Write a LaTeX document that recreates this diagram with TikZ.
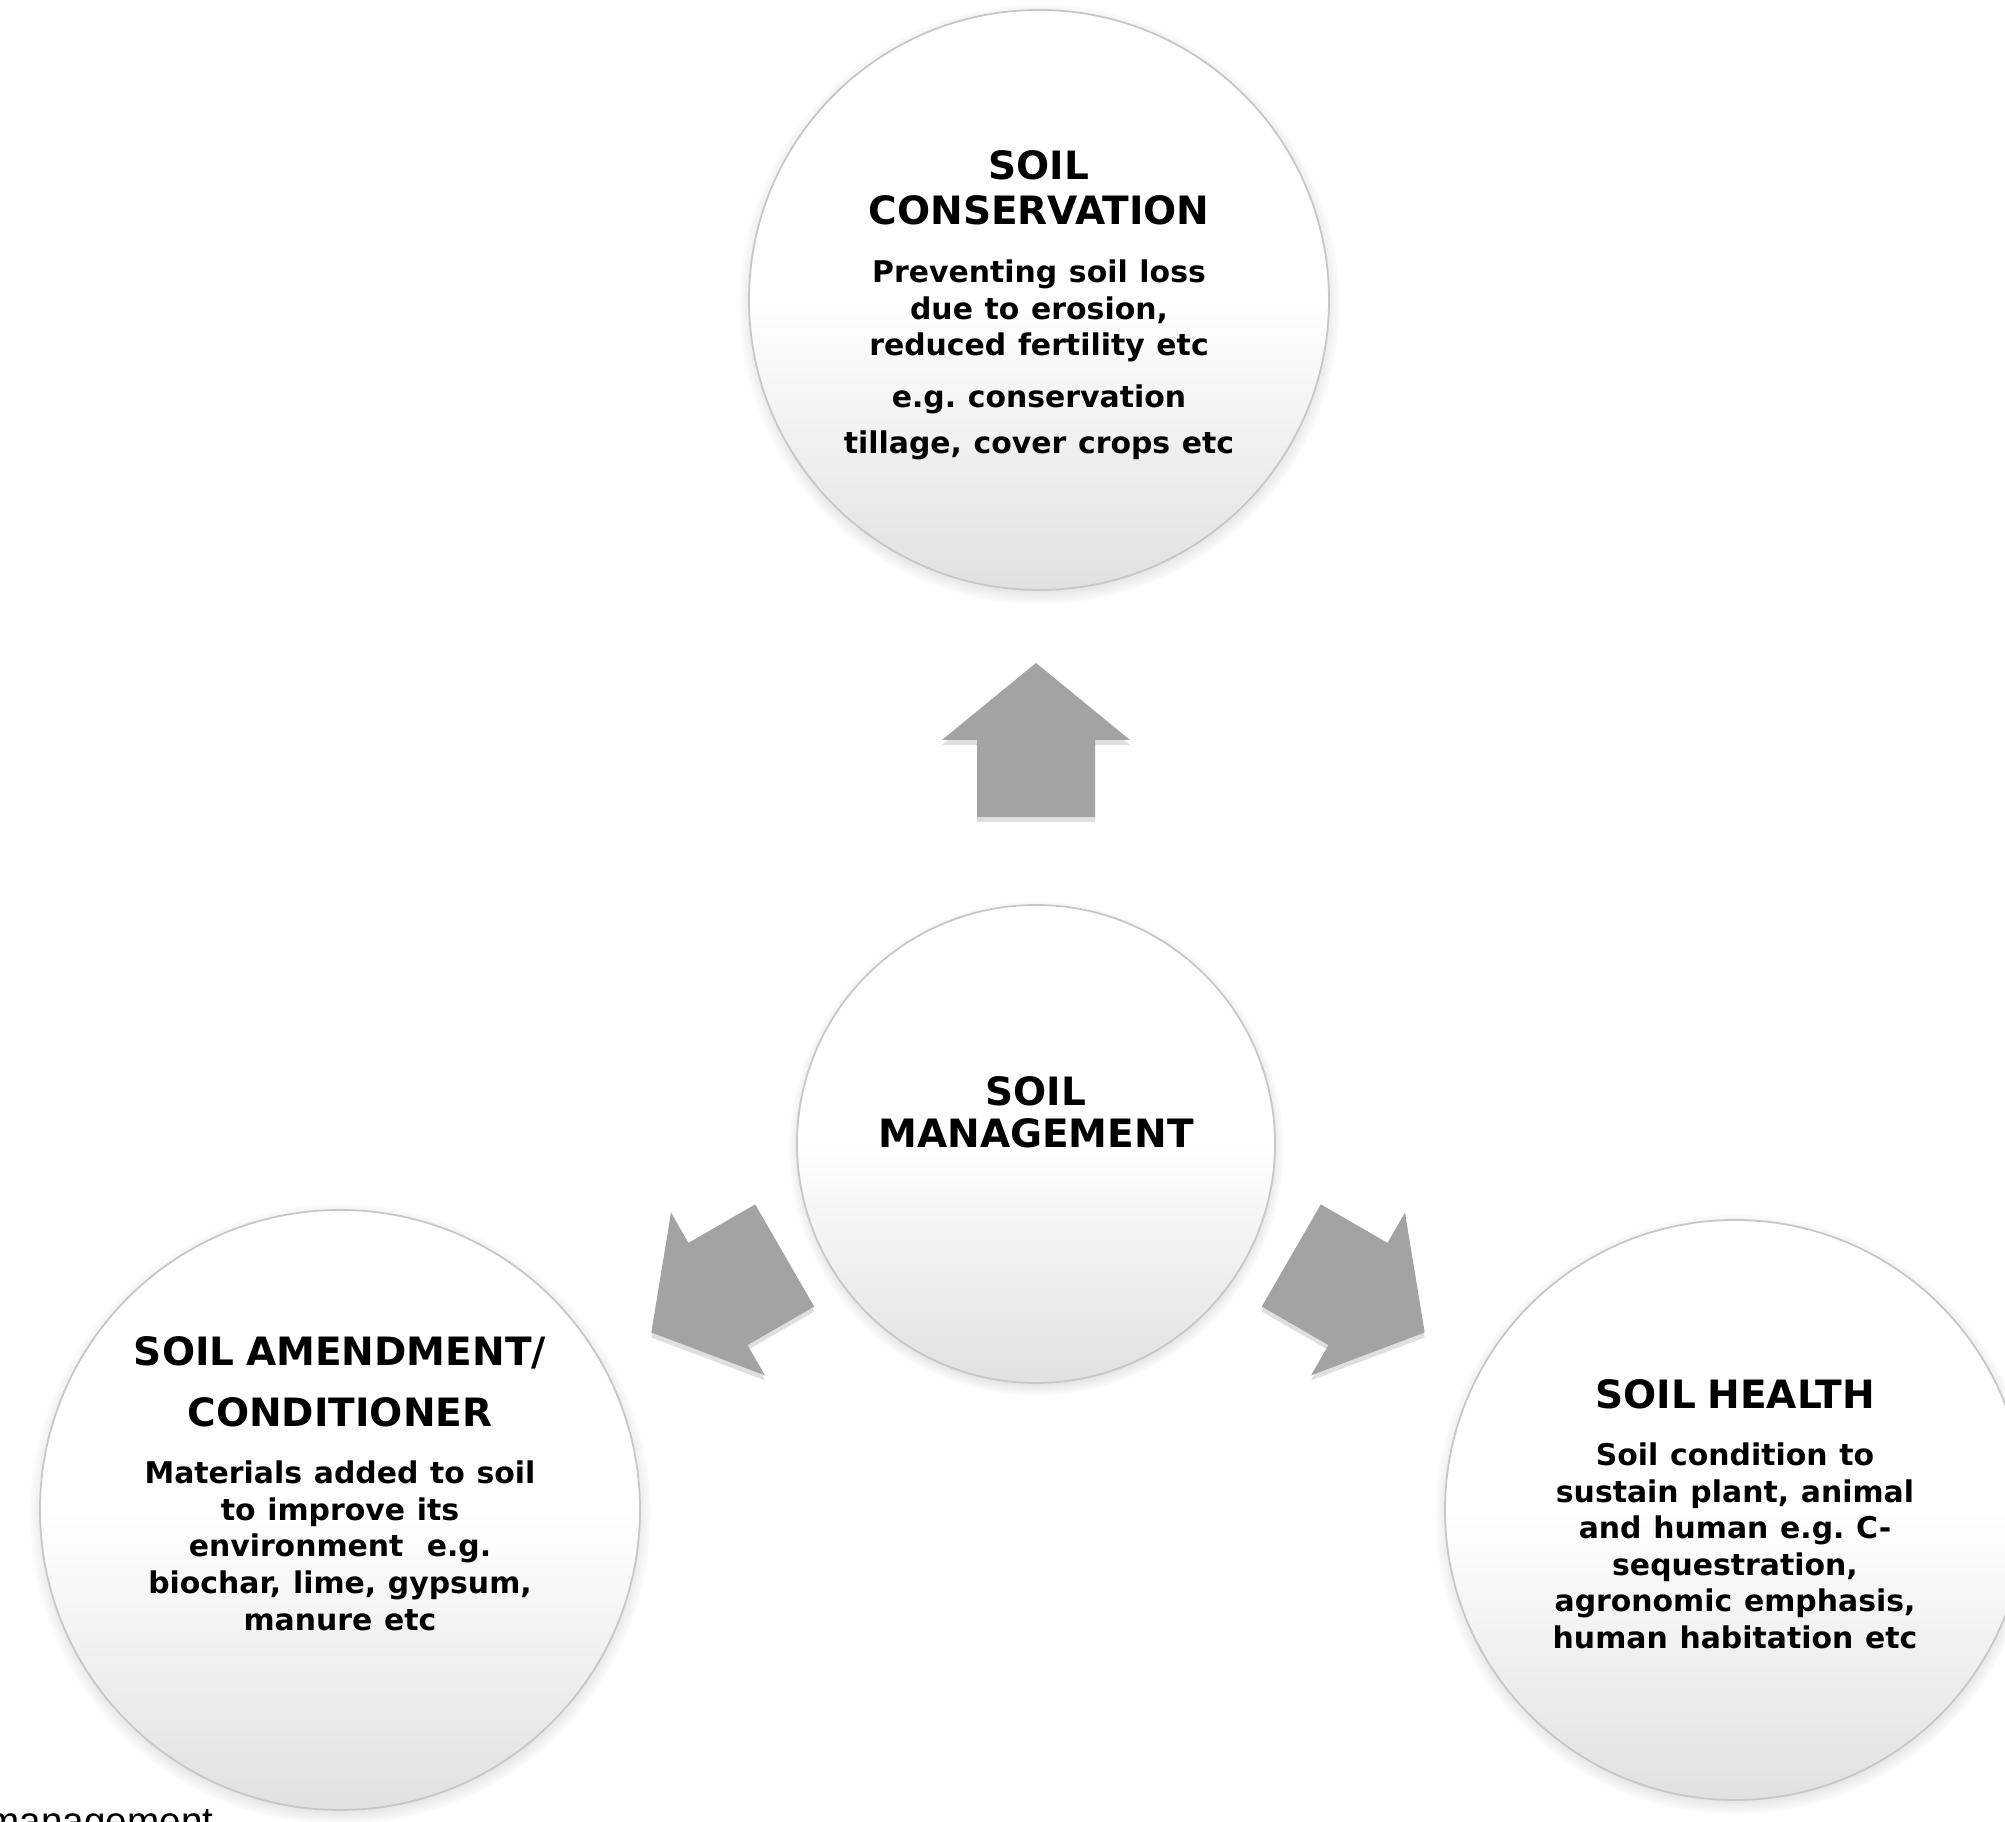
\documentclass[tikz,border=0pt]{standalone}
\usepackage{fontspec}
\setmainfont{DejaVu Sans}
\setsansfont{Liberation Sans}
\usepackage{tikz}
\usetikzlibrary{positioning,shadows}
\definecolor{arrowgray}{gray}{0.64}
\definecolor{rimgray}{gray}{0.78}
\definecolor{shadegray}{gray}{0.88}
\newcommand{\headsize}{\fontsize{11.1pt}{12.8pt}\selectfont}
\newcommand{\bodysize}{\fontsize{8.5pt}{10.4pt}\selectfont}
\frenchspacing
\tikzset{
  bubble/.style={circle,draw=rimgray,line width=0.5pt,inner sep=0pt,
                 top color=white,bottom color=shadegray,middle color=white,
                 circular drop shadow={shadow scale=1.035,shadow xshift=0pt,
                                       shadow yshift=-0.04cm,opacity=0.6}},
  bubbletext/.style={text width=5.2cm,align=center,inner sep=0pt,font=\bfseries},
  blockarrow/.pic={
    \fill[arrowgray,drop shadow={shadow xshift=0pt,shadow yshift=-0.05cm,opacity=0.25}]
      (0,0.77) -- (0.94,0) -- (0.59,0) -- (0.59,-0.77) -- (-0.59,-0.77)
      -- (-0.59,0) -- (-0.94,0) -- cycle;
  },
}

\begin{document}
\begin{tikzpicture}
  \path[use as bounding box,fill=white] (0,0) rectangle (20.05,18.22);
  \clip (0,0) rectangle (20.05,18.22);
  % hub and the three outer bubbles
  \node[bubble,minimum size=5.80cm] (cons)   at (10.39,15.22) {};
  \node[bubble,minimum size=4.78cm] (mgmt)   at (10.36,6.78)  {};
  \node[bubble,minimum size=6.00cm] (amend)  at (3.40,3.12)   {};
  \node[bubble,minimum size=5.80cm] (health) at (17.35,3.12)  {};
  % block arrows pointing out of the hub
  \pic at (10.36,10.82) {blockarrow};
  \pic[rotate=120]  at (7.18,5.28)  {blockarrow};
  \pic[rotate=-120] at (13.58,5.28) {blockarrow};
  % texts
  \node[bubbletext,below=1.41cm of cons.north] (consTxt) {%
    {\headsize SOIL\\CONSERVATION\par}
    \vspace{6.1pt}
    {\bodysize Preventing soil loss\\due to erosion,\\reduced fertility etc\par}
    \vspace{4.4pt}
    {\bodysize e.g. conservation\\[2.7pt]tillage, cover crops etc\par}};
  \node[bubbletext,below=1.72cm of mgmt.north] (mgmtTxt) {%
    \fontsize{11.1pt}{13.4pt}\selectfont SOIL\\MANAGEMENT};
  \node[bubbletext,below=1.27cm of amend.north] (amendTxt) {%
    {\fontsize{11.1pt}{17.4pt}\selectfont SOIL AMENDMENT/\\CONDITIONER\par}
    \vspace{5.8pt}
    {\bodysize Materials added to soil\\to improve its\\environment~ e.g.\\
     biochar, lime, gypsum,\\manure etc\par}};
  \node[bubbletext,below=1.60cm of health.north] (healthTxt) {%
    {\headsize SOIL HEALTH\par}
    \vspace{5.8pt}
    {\bodysize Soil condition to\\sustain plant, animal\\and human e.g. C-\\
     sequestration,\\agronomic emphasis,\\human habitation etc\par}};
  % caption running off the bottom edge
  \node[anchor=base west,inner sep=0pt,font=\sffamily\fontsize{11pt}{12pt}\selectfont]
    (capFrag) at (-0.13,-0.13) {management};
\end{tikzpicture}
\end{document}
